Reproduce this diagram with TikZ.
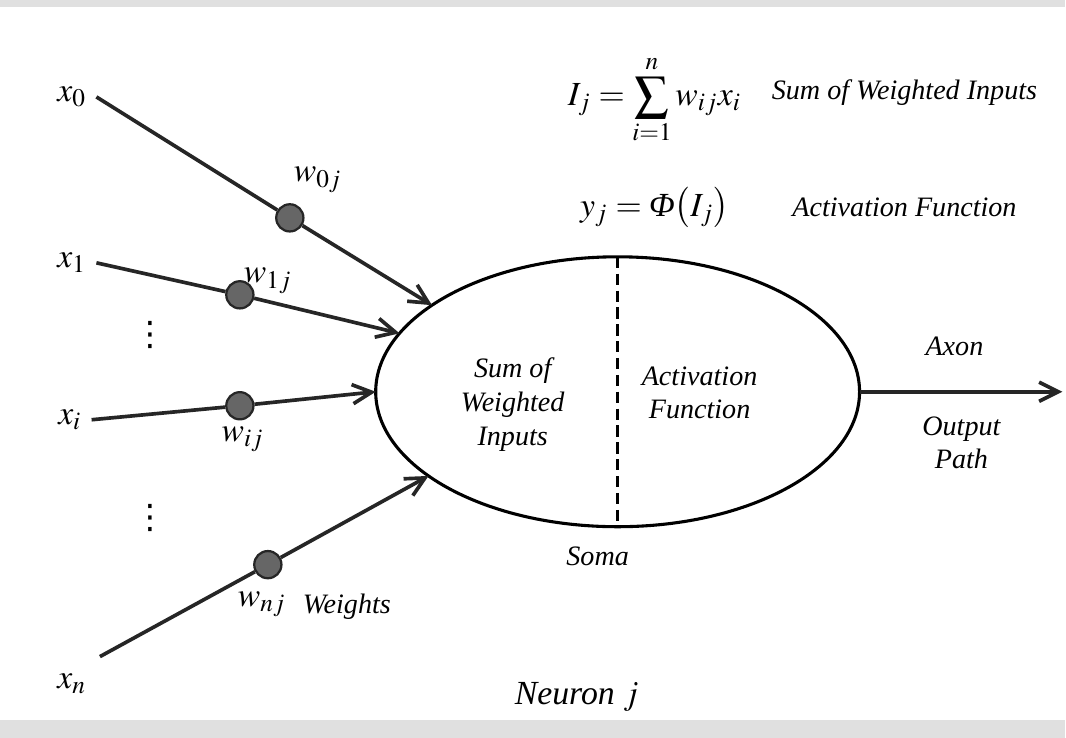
\documentclass[tikz,border=0pt]{standalone}
\usepackage{mathptmx}
\usepackage{fontspec}
\setmainfont{Liberation Serif}
\newfontfamily\dotsfont{DejaVu Sans}
\usetikzlibrary{arrows.meta,shapes.geometric}

\begin{document}
\begin{tikzpicture}[
  x=0.0125cm, y=-0.0125cm,
  lbl/.style={font=\itshape, align=center, inner sep=1pt},
  inp/.style={font=\large},
  bead/.style={circle, draw=black!85, line width=0.8pt, fill=black!60, minimum size=0.34cm, inner sep=0pt},
  arr/.style={-{Straight Barb[length=2.4mm, width=2.4mm]}, line width=1.3pt, black!85},
  cell/.style={ellipse, draw, line width=1.1pt, minimum width=6.05cm, minimum height=3.375cm, inner sep=0pt, outer sep=0pt}
]
\fill[white] (0,0) rectangle (1066,738);
\fill[black!12] (0,0) rectangle (1066,7);
\fill[black!12] (0,720) rectangle (1066,738);

\node[cell] (soma) at (618,392) {};
\draw[line width=1.3pt, dash pattern=on 4pt off 2pt] (soma.north) -- (soma.south);

\node[inp] (x0) at (72,97) {$x_0$};
\node[inp] (x1) at (72,263) {$x_1$};
\node[inp] (xi) at (70,420) {$x_i$};
\node[inp] (xn) at (72,684) {$x_n$};
\coordinate (sn) at (100,657);
\node[font=\large\dotsfont] (d1) at (150,335) {⋮};
\node[font=\large\dotsfont] (d2) at (150,518) {⋮};

\node[bead] (b0) at (290,218) {};
\node[bead] (b1) at (240,295) {};
\node[bead] (bi) at (240,406) {};
\node[bead] (bn) at (268,565) {};

\draw[arr] (x0.east) -- (b0) -- (soma.155.7);
\draw[arr] (x1.east) -- (b1) -- (soma.165.4);
\draw[arr] (xi.east) -- (bi) -- (soma.180);
\draw[arr] (sn) -- (bn) -- (soma.204.3);

\node[inp] (w0) at (318,180) {$w_{0j}$};
\node[inp] (w1) at (268,281) {$w_{1j}$};
\node[inp] (wi) at (243,440) {$w_{ij}$};
\node[inp] (wn) at (262,605) {$w_{nj}$};
\node[lbl] (wts) at (347,607) {Weights};

\node[lbl] (sum) at (513,405) {Sum of\\Weighted\\Inputs};
\node[lbl] (act) at (700,393) {Activation\\Function};
\node[lbl] (lsoma) at (598,557) {Soma};

\coordinate (out) at (1063,392);
\draw[arr] (soma.east) -- (out);
\node[lbl] (axon) at (955,347) {Axon};
\node[lbl] (path) at (962,443) {Output\\Path};

\node[font=\large] (f1) at (655,100) {$\displaystyle I_j=\sum_{i=1}^{n} w_{ij}x_i$};
\node[lbl] (t1) at (905,93) {Sum of Weighted Inputs};
\node[font=\large] (f2) at (655,208) {$y_j=\mbox{\itshape Φ}\bigl(I_j\bigr)$};
\node[lbl] (t2) at (905,207) {Activation Function};

\node[lbl, font=\large\itshape] (neuron) at (577,697) {Neuron $j$};
\end{tikzpicture}
\end{document}
